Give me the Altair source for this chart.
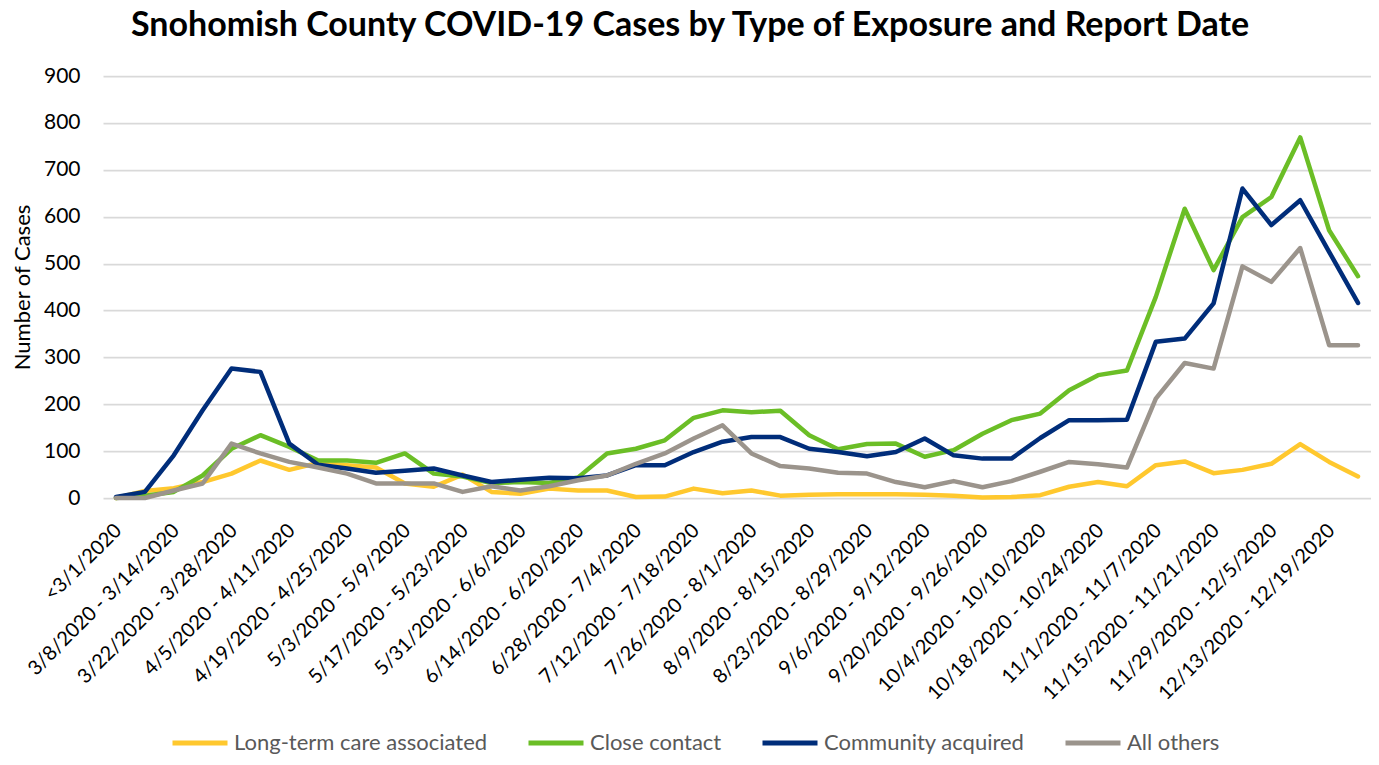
import altair as alt
import pandas as pd

weeks = [
    "<3/1/2020", "3/1/2020 - 3/7/2020", "3/8/2020 - 3/14/2020", "3/15/2020 - 3/21/2020",
    "3/22/2020 - 3/28/2020", "3/29/2020 - 4/4/2020", "4/5/2020 - 4/11/2020", "4/12/2020 - 4/18/2020",
    "4/19/2020 - 4/25/2020", "4/26/2020 - 5/2/2020", "5/3/2020 - 5/9/2020", "5/10/2020 - 5/16/2020",
    "5/17/2020 - 5/23/2020", "5/24/2020 - 5/30/2020", "5/31/2020 - 6/6/2020", "6/7/2020 - 6/13/2020",
    "6/14/2020 - 6/20/2020", "6/21/2020 - 6/27/2020", "6/28/2020 - 7/4/2020", "7/5/2020 - 7/11/2020",
    "7/12/2020 - 7/18/2020", "7/19/2020 - 7/25/2020", "7/26/2020 - 8/1/2020", "8/2/2020 - 8/8/2020",
    "8/9/2020 - 8/15/2020", "8/16/2020 - 8/22/2020", "8/23/2020 - 8/29/2020", "8/30/2020 - 9/5/2020",
    "9/6/2020 - 9/12/2020", "9/13/2020 - 9/19/2020", "9/20/2020 - 9/26/2020", "9/27/2020 - 10/3/2020",
    "10/4/2020 - 10/10/2020", "10/11/2020 - 10/17/2020", "10/18/2020 - 10/24/2020", "10/25/2020 - 10/31/2020",
    "11/1/2020 - 11/7/2020", "11/8/2020 - 11/14/2020", "11/15/2020 - 11/21/2020", "11/22/2020 - 11/28/2020",
    "11/29/2020 - 12/5/2020", "12/6/2020 - 12/12/2020", "12/13/2020 - 12/19/2020", "12/20/2020 - 12/26/2020",
]

long_term_care = [0, 15, 21, 34, 52, 80, 60, 75, 70, 65, 31, 24, 50, 13, 9, 20, 16, 16, 2, 3, 20, 10,
                  16, 5, 7, 8, 8, 8, 7, 5, 1, 2, 6, 24, 34, 25, 70, 78, 53, 60, 73, 115, 77, 46]
close_contact = [0, 5, 13, 48, 105, 134, 109, 80, 80, 75, 95, 52, 46, 32, 34, 32, 44, 95, 105, 123, 171, 187,
                 183, 186, 134, 104, 115, 116, 88, 102, 137, 166, 180, 230, 262, 272, 429, 617, 486, 599, 642, 769, 571, 473]
community = [2, 13, 91, 187, 276, 269, 116, 71, 63, 54, 58, 63, 48, 34, 39, 43, 42, 48, 70, 70, 98, 120,
             130, 130, 105, 98, 89, 98, 127, 91, 84, 84, 128, 166, 166, 167, 333, 340, 415, 660, 582, 635, 525, 416]
all_others = [0, 0, 16, 31, 116, 95, 77, 65, 52, 31, 31, 31, 13, 25, 16, 25, 38, 48, 73, 95, 127, 155,
              95, 68, 63, 54, 52, 34, 23, 36, 23, 36, 56, 77, 72, 65, 212, 288, 276, 494, 461, 533, 326, 326]

series_names = ["Long-term care associated", "Close contact", "Community acquired", "All others"]
series_values = [long_term_care, close_contact, community, all_others]
series_colors = ["#FFC82E", "#6BBE26", "#002D7A", "#9B948C"]

rows = []
for name, vals in zip(series_names, series_values):
    for w, v in zip(weeks, vals):
        rows.append({"week": w, "cases": v, "type": name})
df = pd.DataFrame(rows)

base = alt.Chart(df).encode(
    x=alt.X(
        "week:N",
        sort=weeks,
        scale=alt.Scale(padding=0.45),
        axis=alt.Axis(
            values=weeks[::2], labelAngle=-45, labelAlign="right", labelBaseline="top",
            labelPadding=22, labelOffset=-5, ticks=False, domain=False, grid=False, title=None,
            labelFontSize=20, labelColor="#000000", labelFont="Lato", labelOverlap=False,
            labelLimit=400,
        ),
    ),
    y=alt.Y(
        "cases:Q",
        scale=alt.Scale(domain=[0, 900]),
        axis=alt.Axis(
            values=list(range(0, 901, 100)), title="Number of Cases", ticks=False, domain=False,
            gridColor="#d9d9d9", gridWidth=1.75, labelFontSize=21, labelColor="#000000",
            labelFont="Lato", labelPadding=23, titleFont="Lato", titleFontSize=22,
            titleFontWeight="normal", titleColor="#000000", titlePadding=9,
        ),
    ),
    color=alt.Color(
        "type:N",
        scale=alt.Scale(domain=series_names, range=series_colors),
        legend=alt.Legend(
            orient="none", legendX=67, legendY=637, direction="horizontal", title=None,
            symbolType="stroke", symbolSize=3025, symbolStrokeWidth=5, labelFontSize=22,
            labelColor="#595959", labelFont="Lato", columnPadding=30, labelOffset=4,
            padding=0, labelLimit=400,
        ),
    ),
)

layers = [
    base.transform_filter(alt.datum.type == n).mark_line(strokeWidth=4.5, strokeCap="round", strokeJoin="round")
    for n in series_names
]

chart = (
    alt.layer(*layers)
    .properties(
        width=1268,
        height=422,
        padding={"left": 95, "top": 68, "right": 0, "bottom": 259},
        autosize=alt.AutoSizeParams(type="none"),
        title=alt.TitleParams(
            text="Snohomish County COVID-19 Cases by Type of Exposure and Report Date",
            fontSize=34, font="Lato", fontWeight="bold", color="#000000", anchor="middle",
            dx=-47, dy=6, offset=1, baseline="alphabetic",
        ),
    )
    .configure_view(stroke=None)
)

chart.save("out.html", embed_options={"renderer": "svg", "actions": False})
